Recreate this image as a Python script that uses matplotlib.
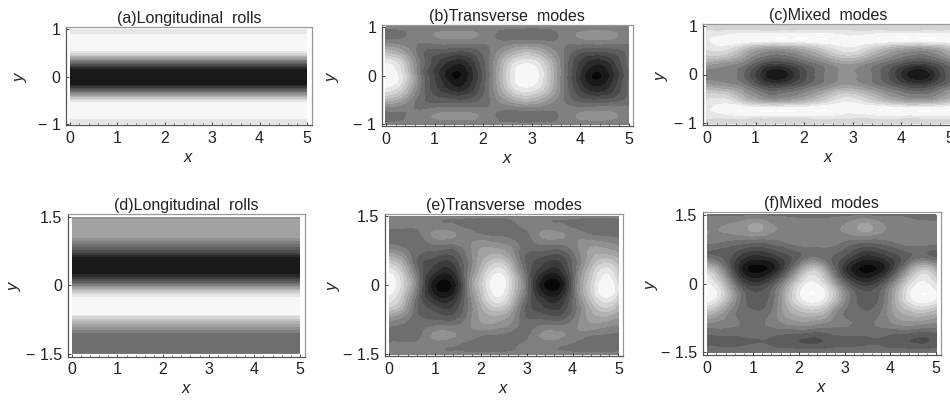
#!/usr/bin/env python3

import numpy as np
import matplotlib
matplotlib.use('Agg')
from matplotlib import pyplot as plt
from matplotlib.ticker import MultipleLocator
from matplotlib.tri import Triangulation, UniformTriRefiner

plt.rcParams['font.family'] = ['Liberation Sans', 'DejaVu Sans']
plt.rcParams['mathtext.fontset'] = 'custom'
plt.rcParams['mathtext.it'] = 'Liberation Sans:italic'

# grey level: 0 black, 1 white
a_y = [-1, -0.92, -0.85, -0.6, -0.55, -0.5, -0.4, -0.3, -0.2, -0.15, 0, 0.15, 0.2, 0.3, 0.4, 0.5, 0.55, 0.6, 0.85, 0.92, 1]
a_v = [0.88, 0.9, 1, 1, 0.95, 0.88, 0.65, 0.4, 0.2, 0.08, 0.07, 0.08, 0.2, 0.4, 0.65, 0.88, 0.95, 1, 1, 0.9, 0.88]

d_y = [-1.5, -1.44, -1.07, -0.95, -0.8, -0.66, -0.62, -0.32, -0.28, -0.2, -0.1, 0, 0.12, 0.22, 0.28, 0.6, 0.65, 0.75, 0.85, 0.95, 1.05, 1.44, 1.5]
d_v = [0.5, 0.42, 0.43, 0.55, 0.72, 0.88, 1, 1, 0.95, 0.88, 0.72, 0.5, 0.28, 0.16, 0.08, 0.08, 0.2, 0.32, 0.42, 0.52, 0.62, 0.6, 0.5]

b_x = [0, 0.36, 0.72, 1.09, 1.45, 1.81, 2.18, 2.54, 2.9, 3.26, 3.62, 3.99, 4.35, 4.71, 5]
b_y = [0, 0.25, 0.5, 0.8, 1]  # mirrored about y=0
b_v = [[1.00, 0.85, 0.45, 0.20, 0.05, 0.20, 0.50, 0.85, 1.00, 0.85, 0.50, 0.20, 0.05, 0.20, 0.40],
       [0.93, 0.78, 0.45, 0.25, 0.14, 0.25, 0.50, 0.80, 0.93, 0.80, 0.50, 0.25, 0.14, 0.25, 0.42],
       [0.70, 0.60, 0.42, 0.36, 0.33, 0.36, 0.48, 0.62, 0.70, 0.62, 0.48, 0.36, 0.33, 0.36, 0.42],
       [0.43, 0.46, 0.50, 0.54, 0.55, 0.54, 0.48, 0.43, 0.42, 0.43, 0.48, 0.54, 0.56, 0.54, 0.50],
       [0.48, 0.48, 0.48, 0.48, 0.48, 0.48, 0.48, 0.48, 0.48, 0.48, 0.48, 0.48, 0.48, 0.48, 0.48]]

c_x = b_x
c_y = [0, 0.2, 0.4, 0.6, 0.72, 0.85, 1]  # mirrored about y=0
c_v = [[0.50, 0.52, 0.42, 0.20, 0.07, 0.20, 0.38, 0.50, 0.55, 0.50, 0.38, 0.20, 0.07, 0.20, 0.38],
       [0.60, 0.55, 0.48, 0.30, 0.22, 0.30, 0.42, 0.52, 0.58, 0.52, 0.42, 0.30, 0.22, 0.30, 0.42],
       [0.80, 0.78, 0.65, 0.50, 0.45, 0.50, 0.60, 0.72, 0.80, 0.72, 0.60, 0.50, 0.45, 0.50, 0.60],
       [0.90, 0.93, 0.85, 0.75, 0.72, 0.75, 0.82, 0.90, 0.95, 0.90, 0.82, 0.75, 0.72, 0.75, 0.82],
       [0.93, 0.97, 1.00, 1.00, 1.00, 1.00, 1.00, 1.00, 0.96, 0.98, 1.00, 1.00, 1.00, 1.00, 1.00],
       [0.90, 0.90, 0.92, 0.92, 0.92, 0.92, 0.92, 0.92, 0.90, 0.90, 0.92, 0.92, 0.92, 0.92, 0.92],
       [0.82, 0.82, 0.82, 0.82, 0.82, 0.82, 0.82, 0.82, 0.82, 0.82, 0.82, 0.82, 0.82, 0.82, 0.82]]

e_x = [0, 0.295, 0.59, 0.885, 1.18, 1.475, 1.77, 2.065, 2.36, 2.655, 2.95, 3.245, 3.54, 3.835, 4.13, 4.425, 4.72, 5]
e_y = [0, 0.4, 0.75, 1.1, 1.25, 1.5]  # mirrored about y=0
e_v = [[1.00, 0.82, 0.50, 0.15, 0.03, 0.15, 0.55, 0.82, 1.00, 0.82, 0.50, 0.15, 0.03, 0.15, 0.55, 0.82, 1.00, 0.85],
       [0.85, 0.70, 0.42, 0.28, 0.20, 0.28, 0.50, 0.72, 0.85, 0.70, 0.42, 0.28, 0.20, 0.28, 0.50, 0.72, 0.85, 0.74],
       [0.55, 0.50, 0.42, 0.40, 0.38, 0.40, 0.52, 0.62, 0.62, 0.55, 0.42, 0.40, 0.38, 0.40, 0.52, 0.62, 0.62, 0.58],
       [0.43, 0.43, 0.44, 0.52, 0.56, 0.53, 0.50, 0.46, 0.45, 0.44, 0.44, 0.52, 0.56, 0.53, 0.50, 0.46, 0.45, 0.44],
       [0.47, 0.47, 0.47, 0.50, 0.50, 0.48, 0.45, 0.42, 0.41, 0.44, 0.47, 0.50, 0.50, 0.48, 0.45, 0.42, 0.41, 0.44],
       [0.48, 0.48, 0.48, 0.48, 0.48, 0.48, 0.48, 0.48, 0.48, 0.48, 0.48, 0.48, 0.48, 0.48, 0.48, 0.48, 0.48, 0.48]]

f_x = [0, 0.2, 0.5, 0.8, 1.1, 1.4, 1.7, 2.0, 2.3, 2.6, 2.9, 3.2, 3.5, 3.8, 4.1, 4.4, 4.7, 5]
f_y = [-1.5, -1.2, -0.9, -0.6, -0.3, 0, 0.3, 0.6, 0.9, 1.2, 1.5]
f_v = [[0.45, 0.45, 0.45, 0.45, 0.45, 0.45, 0.45, 0.45, 0.45, 0.45, 0.45, 0.45, 0.45, 0.45, 0.45, 0.45, 0.45, 0.45],
       [0.38, 0.38, 0.38, 0.39, 0.40, 0.39, 0.36, 0.34, 0.32, 0.35, 0.38, 0.38, 0.39, 0.39, 0.36, 0.34, 0.32, 0.36],
       [0.50, 0.50, 0.48, 0.46, 0.45, 0.48, 0.52, 0.54, 0.53, 0.50, 0.48, 0.46, 0.45, 0.48, 0.52, 0.54, 0.52, 0.50],
       [0.75, 0.68, 0.52, 0.42, 0.40, 0.46, 0.62, 0.72, 0.76, 0.68, 0.50, 0.42, 0.40, 0.46, 0.62, 0.72, 0.76, 0.70],
       [1.00, 0.92, 0.66, 0.42, 0.36, 0.42, 0.66, 0.90, 1.00, 0.90, 0.64, 0.42, 0.36, 0.42, 0.66, 0.90, 1.00, 0.93],
       [0.95, 0.85, 0.55, 0.28, 0.22, 0.32, 0.55, 0.82, 0.95, 0.80, 0.50, 0.28, 0.22, 0.32, 0.55, 0.82, 0.95, 0.85],
       [0.78, 0.66, 0.36, 0.10, 0.04, 0.10, 0.30, 0.58, 0.78, 0.60, 0.30, 0.10, 0.04, 0.10, 0.30, 0.58, 0.78, 0.66],
       [0.42, 0.40, 0.34, 0.22, 0.18, 0.22, 0.30, 0.38, 0.45, 0.42, 0.36, 0.25, 0.18, 0.22, 0.30, 0.38, 0.42, 0.38],
       [0.48, 0.47, 0.44, 0.42, 0.40, 0.42, 0.46, 0.50, 0.50, 0.50, 0.47, 0.42, 0.40, 0.42, 0.46, 0.50, 0.50, 0.49],
       [0.53, 0.53, 0.55, 0.58, 0.62, 0.55, 0.53, 0.51, 0.50, 0.50, 0.53, 0.58, 0.62, 0.55, 0.53, 0.51, 0.50, 0.50],
       [0.45, 0.45, 0.45, 0.45, 0.45, 0.45, 0.45, 0.45, 0.45, 0.45, 0.45, 0.45, 0.45, 0.45, 0.45, 0.45, 0.45, 0.45]]

titles = ['(a)Longitudinal  rolls', '(b)Transverse  modes', '(c)Mixed  modes',
          '(d)Longitudinal  rolls', '(e)Transverse  modes', '(f)Mixed  modes']
x_ticks = [0, 1, 2, 3, 4, 5]
top_y_ticks = [-1, 0, 1]
top_y_labels = ['\u2212 1', '0', '1']
bottom_y_ticks = [-1.5, 0, 1.5]
bottom_y_labels = ['\u2212 1.5', '0', '1.5']

W, H = 950, 405
LEVELS = np.linspace(0, 1, 16)


def axes_px(fig, left, right, top, bottom):
    return fig.add_axes((left / W, 1 - bottom / H, (right - left) / W, (bottom - top) / H))


def mirror(ys, vals):
    ys = np.array(ys)
    vals = np.array(vals)
    return np.concatenate([-ys[:0:-1], ys]), np.vstack([vals[:0:-1], vals])


def flat_panel(ax, ys, vs):
    z = np.column_stack([vs, vs])
    ax.contourf([0, 5], ys, z, levels=LEVELS, cmap='gray', vmin=0, vmax=1)


def field_panel(ax, xs, ys, vals):
    X, Y = np.meshgrid(xs, ys)
    vals = np.array(vals)
    # scale y so the triangles are about square before refining
    tri = Triangulation(X.ravel(), Y.ravel())
    tri_f, z_f = UniformTriRefiner(tri).refine_field(vals.ravel(), subdiv=3)
    ax.tricontourf(tri_f, np.clip(z_f, 0, 1), levels=LEVELS, cmap='gray', vmin=0, vmax=1)


def dress(ax, title, yticks, ylabels, xlim, ylim, ylabel_x):
    ax.set_xlim(xlim)
    ax.set_ylim(ylim)
    ax.set_xticks(x_ticks)
    ax.set_yticks(yticks)
    ax.set_yticklabels(ylabels)
    ax.xaxis.set_minor_locator(MultipleLocator(0.2))
    ax.tick_params(which='major', direction='in', length=2.5, width=0.6, labelsize=11.5,
                   colors='#222222', pad=4)
    ax.tick_params(which='minor', direction='in', length=1.2, width=0.4, bottom=True)
    for side, spine in ax.spines.items():
        spine.set_linewidth(0.9)
        spine.set_color('#555555' if side in ('left', 'bottom') else '#999999')
    ax.set_title(title, fontsize=11.5, color='#222222', pad=3)
    ax.set_xlabel('$x$', fontsize=12, color='#222222', labelpad=3)
    ax.set_ylabel('$y$', fontsize=12, color='#222222')
    ax.yaxis.set_label_coords(ylabel_x, 0.5)


fig = plt.figure(figsize=(W / 100, H / 100), dpi=100)

ax_a = axes_px(fig, 66, 312, 27, 125)
flat_panel(ax_a, a_y, a_v)
dress(ax_a, titles[0], top_y_ticks, top_y_labels, (-0.084, 5.106), (-1.02, 1.05), -0.15)

ax_b = axes_px(fig, 381.7, 633, 25, 126)
ys, vals = mirror(b_y, b_v)
field_panel(ax_b, b_x, ys, vals)
dress(ax_b, titles[1], top_y_ticks, top_y_labels, (-0.088, 5.09), (-1.04, 1.04), -0.16)

ax_c = axes_px(fig, 702.7, 954, 24, 125)
ys, vals = mirror(c_y, c_v)
field_panel(ax_c, c_x, ys, vals)
dress(ax_c, titles[2], top_y_ticks, top_y_labels, (-0.088, 5.09), (-1.04, 1.04), -0.13)

ax_d = axes_px(fig, 67.7, 305, 214, 356.7)
flat_panel(ax_d, d_y, d_v)
dress(ax_d, titles[3], bottom_y_ticks, bottom_y_labels, (-0.088, 5.11), (-1.56, 1.555), -0.19)

ax_e = axes_px(fig, 385, 622.7, 214, 356)
ys, vals = mirror(e_y, e_v)
field_panel(ax_e, e_x, ys, vals)
dress(ax_e, titles[4], bottom_y_ticks, bottom_y_labels, (-0.094, 5.095), (-1.54, 1.545), -0.18)

ax_f = axes_px(fig, 702.7, 940.7, 212, 355)
field_panel(ax_f, f_x, f_y, f_v)
dress(ax_f, titles[5], bottom_y_ticks, bottom_y_labels, (-0.1, 5.1), (-1.56, 1.565), -0.18)

fig.savefig('out.png', dpi=100)
